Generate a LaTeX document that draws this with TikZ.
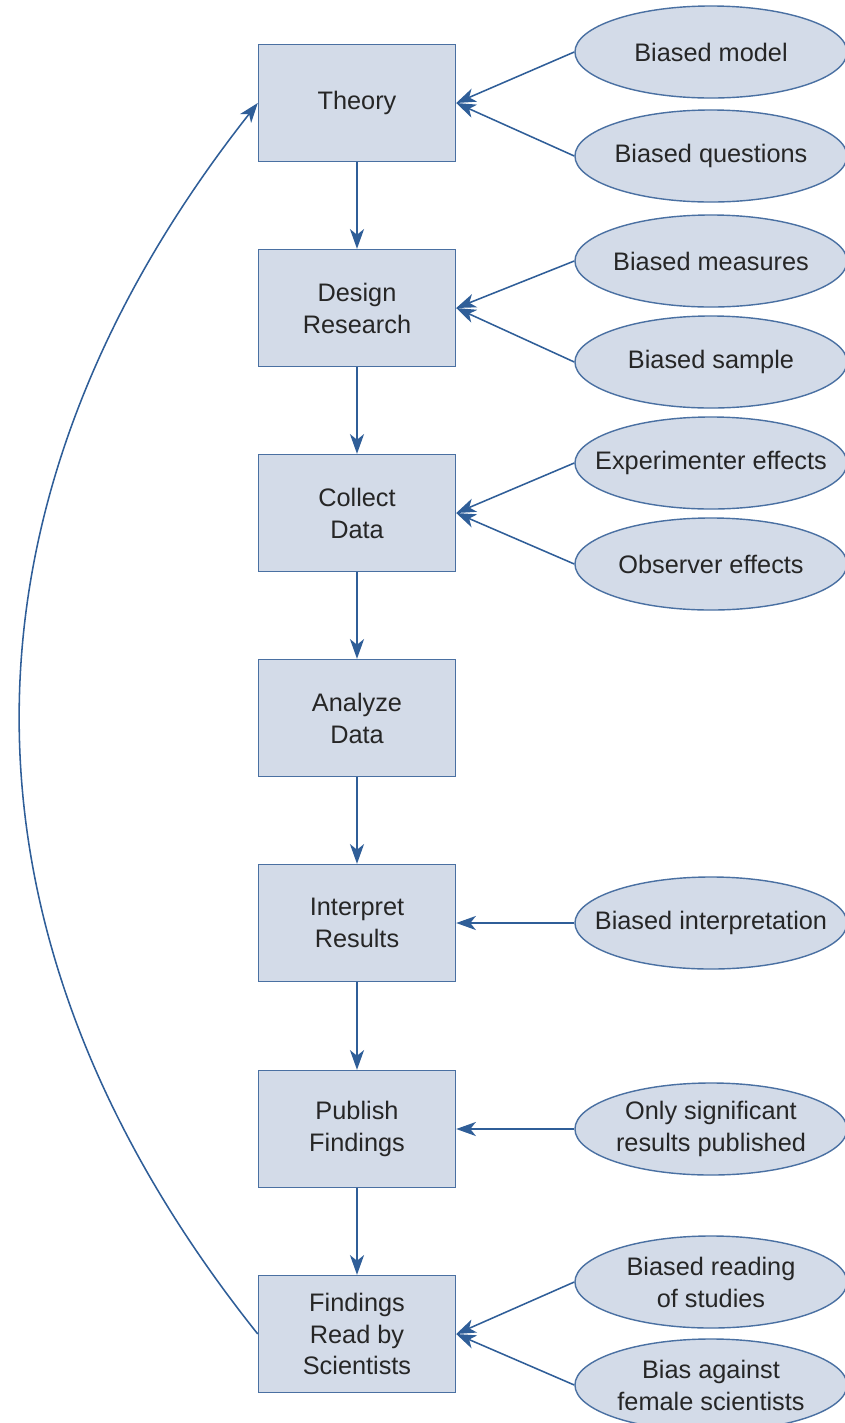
\documentclass[tikz,border=0pt]{standalone}
\usepackage{fontspec}
\setmainfont{Liberation Sans}
\usepackage{tikz}
\usetikzlibrary{positioning,arrows.meta,shapes.geometric}
\usepackage{xcolor}
\definecolor{steelBlue}{HTML}{4A70A2}
\definecolor{paleBlue}{HTML}{D3DBE8}
\definecolor{arrowBlue}{HTML}{2F5E98}

\begin{document}
\begin{tikzpicture}[
    x=0.025cm, y=-0.025cm,
    stepNode/.style={rectangle, draw=steelBlue, fill=paleBlue, line width=1pt, minimum width=4.925cm, minimum height=2.925cm, align=center, inner sep=2pt, text=black!85, font=\fontsize{18}{22.7}\selectfont},
    biasNode/.style={ellipse, draw=steelBlue, fill=paleBlue, line width=1pt, minimum width=6.8cm, minimum height=2.3cm, align=center, inner xsep=-1cm, inner ysep=0pt, text=black!85, font=\fontsize{18}{22.7}\selectfont},
    arrowFlow/.style={-{Stealth[length=14pt, width=10pt, inset=4pt]}, line width=1.1pt, draw=arrowBlue}
]
    \useasboundingbox (0, 0) rectangle (844, 1423);

    % research steps
    \node[stepNode] (theory) at (357, 103) {Theory};
    \node[stepNode] (design) at (357, 308) {Design\\Research};
    \node[stepNode] (collect) at (357, 513) {Collect\\Data};
    \node[stepNode] (analyze) at (357, 718) {Analyze\\Data};
    \node[stepNode] (interpret) at (357, 923) {Interpret\\Results};
    \node[stepNode] (publish) at (357, 1129) {Publish\\Findings};
    \node[stepNode] (read) at (357, 1334) {Findings\\Read by\\Scientists};

    % sources of bias
    \node[biasNode] (bModel) at (711, 52) {Biased model};
    \node[biasNode] (bQuest) at (711, 156) {Biased questions};
    \node[biasNode] (bMeas) at (711, 261) {Biased measures};
    \node[biasNode] (bSample) at (711, 362) {Biased sample};
    \node[biasNode] (bExper) at (711, 463) {Experimenter effects};
    \node[biasNode] (bObs) at (711, 564) {Observer effects};
    \node[biasNode] (bInterp) at (711, 923) {Biased interpretation};
    \node[biasNode] (bSignif) at (711, 1129) {Only significant\\results published};
    \node[biasNode] (bReading) at (711, 1282) {Biased reading\\of studies};
    \node[biasNode] (bFemale) at (711, 1385) {Bias against\\female scientists};

    \draw[arrowFlow] (theory) -- (design);
    \draw[arrowFlow] (design) -- (collect);
    \draw[arrowFlow] (collect) -- (analyze);
    \draw[arrowFlow] (analyze) -- (interpret);
    \draw[arrowFlow] (interpret) -- (publish);
    \draw[arrowFlow] (publish) -- (read);

    \draw[arrowFlow] (bModel.west) -- (theory.east);
    \draw[arrowFlow] (bQuest.west) -- (theory.east);
    \draw[arrowFlow] (bMeas.west) -- (design.east);
    \draw[arrowFlow] (bSample.west) -- (design.east);
    \draw[arrowFlow] (bExper.west) -- (collect.east);
    \draw[arrowFlow] (bObs.west) -- (collect.east);
    \draw[arrowFlow] (bInterp.west) -- (interpret.east);
    \draw[arrowFlow] (bSignif.west) -- (publish.east);
    \draw[arrowFlow] (bReading.west) -- (read.east);
    \draw[arrowFlow] (bFemale.west) -- (read.east);

    % feedback loop
    \draw[arrowFlow] (read.west) .. controls (-59, 937) and (-59, 505) .. (theory.west);
\end{tikzpicture}
\end{document}
